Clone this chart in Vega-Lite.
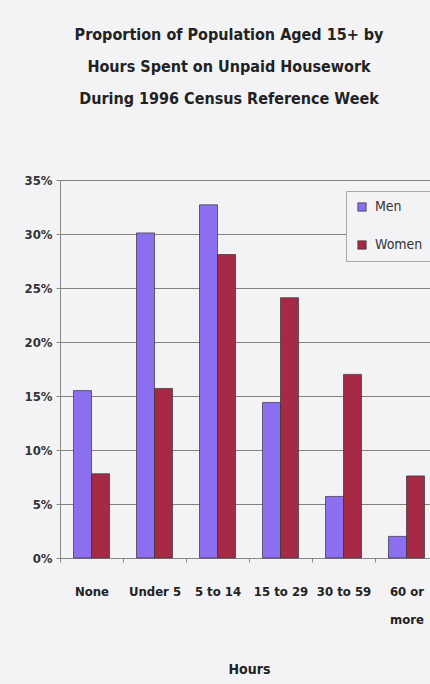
{
  "$schema": "https://vega.github.io/schema/vega-lite/v6.json",
  "width": 378,
  "height": 378,
  "autosize": "none",
  "padding": {"left": 60, "top": 180, "right": 0, "bottom": 126},
  "background": "#f3f3f5",
  "title": {
    "text": ["Proportion of Population Aged 15+ by", "Hours Spent on Unpaid Housework", "During 1996 Census Reference Week"],
    "font": "DejaVu Sans Condensed, Liberation Sans, sans-serif",
    "fontSize": 16,
    "fontWeight": "bold",
    "color": "#222",
    "lineHeight": 32,
    "anchor": "middle",
    "dx": -20,
    "offset": 67
  },
  "config": {
    "view": {"stroke": null, "fill": "#f3f3f5"},
    "font": "DejaVu Sans Condensed, Liberation Sans, sans-serif"
  },
  "data": {
    "values": [
      {"hours": "None", "sex": "Men", "pct": 0.155},
      {"hours": "None", "sex": "Women", "pct": 0.078},
      {"hours": "Under 5", "sex": "Men", "pct": 0.301},
      {"hours": "Under 5", "sex": "Women", "pct": 0.157},
      {"hours": "5 to 14", "sex": "Men", "pct": 0.327},
      {"hours": "5 to 14", "sex": "Women", "pct": 0.281},
      {"hours": "15 to 29", "sex": "Men", "pct": 0.144},
      {"hours": "15 to 29", "sex": "Women", "pct": 0.241},
      {"hours": "30 to 59", "sex": "Men", "pct": 0.057},
      {"hours": "30 to 59", "sex": "Women", "pct": 0.170},
      {"hours": "60 or more", "sex": "Men", "pct": 0.020},
      {"hours": "60 or more", "sex": "Women", "pct": 0.076}
    ]
  },
  "mark": {"type": "bar", "stroke": "#333", "strokeWidth": 0.7},
  "encoding": {
    "x": {
      "field": "hours",
      "type": "nominal",
      "sort": ["None", "Under 5", "5 to 14", "15 to 29", "30 to 59", "60 or more"],
      "scale": {"paddingInner": 0, "paddingOuter": 0},
      "axis": {
        "title": "Hours",
        "titleFont": "DejaVu Sans Condensed, Liberation Sans, sans-serif",
        "titleFontSize": 14,
        "titleFontWeight": "bold",
        "titleColor": "#222",
        "titlePadding": 36,
        "labelAngle": 0,
        "labelFont": "DejaVu Sans Condensed, Liberation Sans, sans-serif",
        "labelFontSize": 13,
        "labelFontWeight": "bold",
        "labelColor": "#222",
        "labelPadding": 23,
        "labelLineHeight": 28,
        "labelExpr": "datum.value == '60 or more' ? ['60 or', 'more'] : datum.value",
        "tickBand": "extent",
        "tickColor": "#888",
        "tickSize": 4,
        "domainColor": "#888",
        "grid": false
      }
    },
    "xOffset": {
      "field": "sex",
      "type": "nominal",
      "scale": {"paddingOuter": 0.75, "paddingInner": 0}
    },
    "y": {
      "field": "pct",
      "type": "quantitative",
      "scale": {"domain": [0, 0.35]},
      "axis": {
        "title": null,
        "values": [0, 0.05, 0.1, 0.15, 0.2, 0.25, 0.3, 0.35],
        "format": ".0%",
        "labelFont": "DejaVu Sans Condensed, Liberation Sans, sans-serif",
        "labelFontSize": 13,
        "labelFontWeight": "bold",
        "labelColor": "#333",
        "labelPadding": 4,
        "tickSize": 4,
        "tickColor": "#888",
        "domainColor": "#888",
        "gridColor": "#8a8080",
        "gridWidth": 1
      }
    },
    "color": {
      "field": "sex",
      "type": "nominal",
      "scale": {"domain": ["Men", "Women"], "range": ["#8c6ff0", "#a62a45"]},
      "legend": {
        "title": null,
        "orient": "none",
        "legendX": 286,
        "legendY": 11,
        "symbolType": "square",
        "symbolSize": 70,
        "symbolStrokeColor": "#333",
        "symbolStrokeWidth": 0.7,
        "labelFont": "DejaVu Sans Condensed, Liberation Sans, sans-serif",
        "labelFontSize": 14,
        "labelColor": "#333",
        "labelOffset": 6,
        "rowPadding": 24,
        "padding": 9,
        "strokeColor": "#aaa",
        "fillColor": "#f3f3f5"
      }
    }
  }
}
